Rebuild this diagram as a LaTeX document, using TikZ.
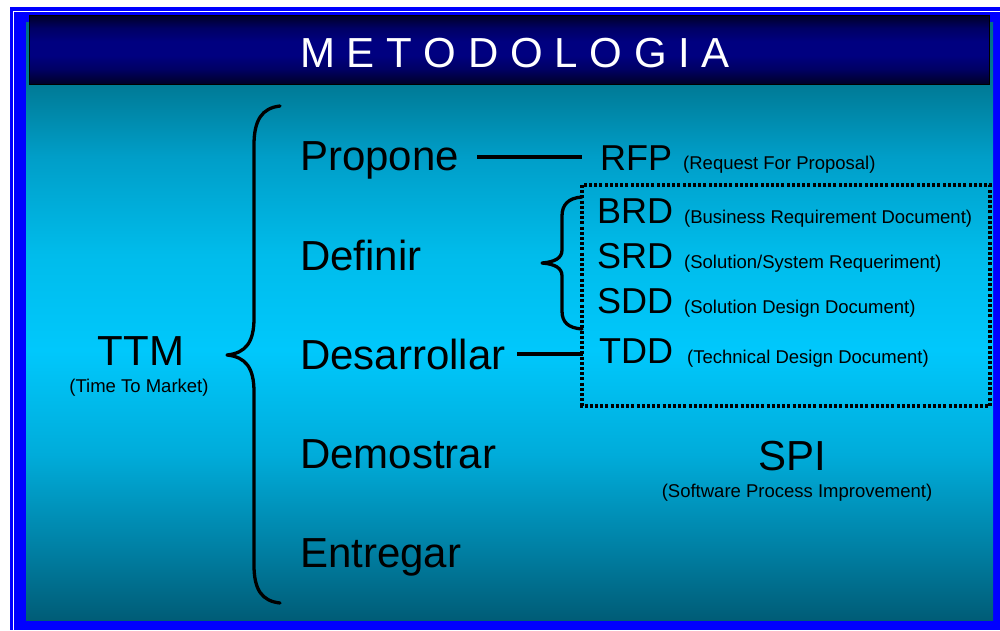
\documentclass[tikz,border=0pt]{standalone}
\usepackage{fontspec}
\setmainfont{Liberation Sans}
\definecolor{bordblue}{RGB}{0,0,255}
\definecolor{tA}{RGB}{0,92,118}
\definecolor{tB}{RGB}{0,125,160}
\definecolor{tC}{RGB}{0,172,218}
\definecolor{tD}{RGB}{0,200,252}
\definecolor{tE}{RGB}{0,188,235}
\definecolor{tF}{RGB}{0,158,200}
\definecolor{tG}{RGB}{0,122,150}
\definecolor{tH}{RGB}{0,110,135}
\definecolor{nA}{RGB}{0,0,40}
\definecolor{nB}{RGB}{0,0,100}
\definecolor{nC}{RGB}{0,0,128}
\pgfdeclareverticalshading{tealsh}{100bp}{color(0bp)=(tA); color(25bp)=(tA); color(30.5bp)=(tB); color(38.9bp)=(tC); color(47.6bp)=(tD); color(55.6bp)=(tE); color(63.8bp)=(tF); color(69.8bp)=(tG); color(75bp)=(tH); color(100bp)=(tH)}
\pgfdeclareverticalshading{navysh}{100bp}{color(0bp)=(nA); color(25bp)=(nA); color(36bp)=(nB); color(46bp)=(nC); color(56bp)=(nC); color(66bp)=(nB); color(75bp)=(nA); color(100bp)=(nA)}
\tikzset{
  big/.style={font=\fontsize{42}{42}\selectfont, anchor=base west, inner sep=0pt},
  mid/.style={font=\fontsize{36}{36}\selectfont, anchor=base west, inner sep=0pt},
  small/.style={font=\fontsize{18.5}{18.5}\selectfont, anchor=base west, inner sep=0pt},
  bracestyle/.style={line width=3.3pt, line cap=round, line join=round},
  connline/.style={line width=3.2pt},
  dotbox/.style={line width=4pt, dash pattern=on 3pt off 2.2pt}
}
\begin{document}
\begin{tikzpicture}[x=1pt,y=-1pt]
\useasboundingbox (0,0) rectangle (1000,630);
\fill[white] (0,0) rectangle (1000,630);
% frame
\fill[bordblue] (10,7) rectangle (1000,630);
\draw[white, line width=1.6pt] (13.6,11.5) rectangle (1020,650);
% background
\shade[shading=tealsh] (26,22.7) rectangle (993,620.7);
% title bar
\shade[shading=navysh, draw=black, line width=1pt] (29,15.7) rectangle (989,84);
\node[font=\fontsize{42}{42}\selectfont, text=white, anchor=base, inner sep=0pt] (title) at (515,67) {M E T O D O L O G I A};
% left
\node[big, anchor=base] (ttm) at (141,365) {TTM};
\node[small, anchor=base] (ttmd) at (139,392) {(Time To Market)};
% big brace
\draw[bracestyle] (280,106) .. controls (262,108) and (254,120) .. (254,145) -- (254,318)
  .. controls (254,342) and (246,353) .. (227,355)
  .. controls (246,357) and (254,368) .. (254,392) -- (254,565)
  .. controls (254,590) and (262,601) .. (280,603);
% column
\node[big] (propone) at (300,170) {Propone};
\node[big] (definir) at (300,270) {Definir};
\node[big] (desarrollar) at (300,369) {Desarrollar};
\node[big] (demostrar) at (300,468) {Demostrar};
\node[big] (entregar) at (300,567) {Entregar};
% RFP
\node[mid] (rfp) at (600,170) {RFP};
\node[small] (rfpd) at (683,169) {(Request For Proposal)};
\coordinate (pa) at (477,157);
\coordinate (pb) at (582,157);
\draw[connline] (pa) -- (pb);
% dotted box
\draw[dotbox] (582,185) rectangle (990,406);
% small brace
\draw[bracestyle] (582,197) .. controls (568,198) and (562,205) .. (562,216) -- (562,250)
  .. controls (562,258) and (555,262) .. (542,263)
  .. controls (555,264) and (562,268) .. (562,276) -- (562,311)
  .. controls (562,322) and (568,328) .. (582,329);
\node[mid] (brd) at (597,223) {BRD};
\node[small] (brdd) at (684,223) {(Business Requirement Document)};
\node[mid] (srd) at (597,268) {SRD};
\node[small] (srdd) at (684,268) {(Solution/System Requeriment)};
\node[mid] (sdd) at (597,313) {SDD};
\node[small] (sddd) at (684,313) {(Solution Design Document)};
\node[mid] (tdd) at (599,363) {TDD};
\node[small] (tddd) at (687,363) {(Technical Design Document)};
\coordinate (da) at (517,354);
\coordinate (db) at (583,354);
\draw[connline] (da) -- (db);
% SPI
\node[big, anchor=base] (spi) at (792,470) {SPI};
\node[small, anchor=base] (spid) at (797,497) {(Software Process Improvement)};
\end{tikzpicture}
\end{document}
